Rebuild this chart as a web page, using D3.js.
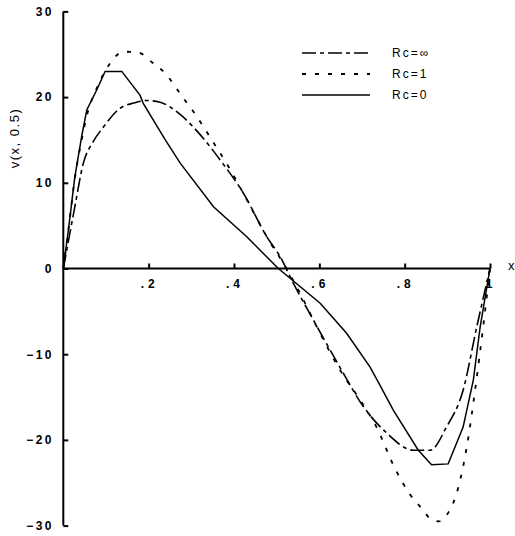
<!DOCTYPE html>
<html>
<head>
<meta charset="utf-8">
<script src="https://cdn.jsdelivr.net/npm/d3@7"></script>
<style>
  html, body { margin: 0; padding: 0; background: #fff; }
  svg { display: block; }
  text { font-family: "Liberation Sans", Arial, sans-serif; fill: #000; }
</style>
</head>
<body>
<svg id="chart" width="515" height="536"></svg>
<script>
// ---- data ----
const rcInfX = [0, 0.012, 0.027, 0.047, 0.07, 0.094, 0.133, 0.165, 0.195, 0.227, 0.273, 0.328, 0.367, 0.422, 0.477, 0.508, 0.539, 0.586, 0.648, 0.703, 0.758, 0.82, 0.86, 0.898, 0.937, 0.969, 1];
const rcInfY = [0, 3.2, 7.2, 12.3, 14.8, 16.5, 18.7, 19.3, 19.6, 19.4, 18.0, 15.2, 12.7, 8.8, 3.7, 1.4, -1.7, -6.0, -11.5, -16.1, -19.2, -21.2, -21.2, -18.5, -14.2, -6.8, 0];

const rc1X = [0, 0.012, 0.027, 0.043, 0.055, 0.078, 0.109, 0.141, 0.176, 0.207, 0.238, 0.281, 0.305, 0.348, 0.387, 0.426, 0.484, 0.516, 0.555, 0.594, 0.648, 0.695, 0.734, 0.777, 0.813, 0.84, 0.863, 0.88, 0.898, 0.926, 0.949, 0.965, 0.984, 1];
const rc1Y = [0, 4.5, 10.5, 15.0, 17.8, 21.0, 23.9, 25.3, 25.2, 24.1, 22.8, 19.9, 18.3, 15.0, 11.9, 8.4, 3.1, 0.6, -2.9, -6.8, -11.8, -15.3, -18.5, -23.3, -26.4, -28.0, -29.3, -29.5, -28.8, -25.5, -19.8, -14.2, -6.8, 0];

const rc0X = [0, 0.012, 0.027, 0.043, 0.055, 0.078, 0.098, 0.137, 0.18, 0.187, 0.239, 0.274, 0.352, 0.43, 0.504, 0.602, 0.664, 0.719, 0.742, 0.773, 0.832, 0.863, 0.902, 0.937, 0.961, 0.977, 1];
const rc0Y = [0, 4.5, 10.7, 15.4, 18.5, 20.8, 23.0, 23.0, 20.2, 19.3, 15.0, 12.3, 7.2, 3.7, 0, -4.06, -7.56, -11.5, -13.6, -16.5, -21.2, -22.9, -22.8, -18.5, -13.0, -6.8, 0];

const seriesNames = ["Rc=\u221E", "Rc=1", "Rc=0"];
const xTicks = [0.2, 0.4, 0.6, 0.8, 1];
const xTickLabels = [".2", ".4", ".6", ".8", "1"];
const yTicks = [-30, -20, -10, 0, 10, 20, 30];
const yTickLabels = ["\u221230", "\u221220", "\u221210", "0", "10", "20", "30"];
const yLabel = "v(x, 0.5)";
const xLabel = "x";

// ---- drawing ----
const svg = d3.select("#chart");
const x = d3.scaleLinear().domain([0, 1]).range([63.3, 490]);
const y = d3.scaleLinear().domain([-30, 30]).range([525.6, 11.4]);

const styles = [
  { dash: "14,4,4,4", w: 1.6 },
  { dash: "4,9", w: 1.8 },
  { dash: null, w: 1.5 }
];
const series = [
  { xs: rcInfX, ys: rcInfY, curve: d3.curveMonotoneX },
  { xs: rc1X, ys: rc1Y, curve: d3.curveMonotoneX },
  { xs: rc0X, ys: rc0Y, curve: d3.curveLinear }
];

// axes
const yAxis = d3.axisRight(y).tickValues(yTicks).tickSize(5).tickFormat("");
const gy = svg.append("g").attr("transform", `translate(${x(0)},0)`).call(yAxis);
gy.select(".domain").attr("d", `M0,${y(-30)}V${y(30)}`).attr("stroke-width", 2);
gy.selectAll(".tick line").attr("stroke-width", 2);

const xAxis = d3.axisTop(x).tickValues(xTicks).tickSize(5).tickFormat("");
const gx = svg.append("g").attr("transform", `translate(0,${y(0)})`).call(xAxis);
gx.select(".domain").attr("d", `M${x(0)},0H${x(1)}`).attr("stroke-width", 2);
gx.selectAll(".tick line").attr("stroke-width", 2);

// tick labels
svg.append("g").selectAll("text").data(yTicks).join("text")
  .attr("x", 54).attr("y", d => y(d)).attr("dy", "0.36em")
  .attr("text-anchor", "end").style("font-weight", "bold").style("font-size", "12px")
  .style("letter-spacing", "2.5px")
  .text((d, i) => yTickLabels[i]);

svg.append("g").selectAll("text").data(xTicks).join("text")
  .attr("x", d => x(d) + 1).attr("y", y(0) + 19)
  .attr("text-anchor", "middle").style("font-weight", "bold").style("font-size", "12px")
  .style("letter-spacing", "4px")
  .text((d, i) => xTickLabels[i]);

svg.append("text").attr("x", 508).attr("y", y(0)).attr("dy", "0.1em")
  .style("font-size", "13px").text(xLabel);

svg.append("text")
  .attr("transform", "translate(19,138) rotate(-90)")
  .attr("text-anchor", "middle").style("font-size", "13px").style("letter-spacing", "1.5px")
  .text(yLabel);

// curves
series.forEach((s, i) => {
  const pts = s.xs.map((v, k) => [v, s.ys[k]]);
  const line = d3.line().x(d => x(d[0])).y(d => y(d[1])).curve(s.curve);
  svg.append("path").attr("d", line(pts)).attr("fill", "none").attr("stroke", "#000")
    .attr("stroke-width", styles[i].w)
    .attr("stroke-dasharray", styles[i].dash);
});

// legend
const legY = [53, 74, 95];
seriesNames.forEach((name, i) => {
  svg.append("line").attr("x1", 302).attr("x2", 370).attr("y1", legY[i]).attr("y2", legY[i])
    .attr("stroke", "#000").attr("stroke-width", styles[i].w)
    .attr("stroke-dasharray", styles[i].dash);
  svg.append("text").attr("x", 392).attr("y", legY[i]).attr("dy", "0.36em")
    .style("font-size", "12px").style("letter-spacing", "2px").text(name);
});
</script>
</body>
</html>
